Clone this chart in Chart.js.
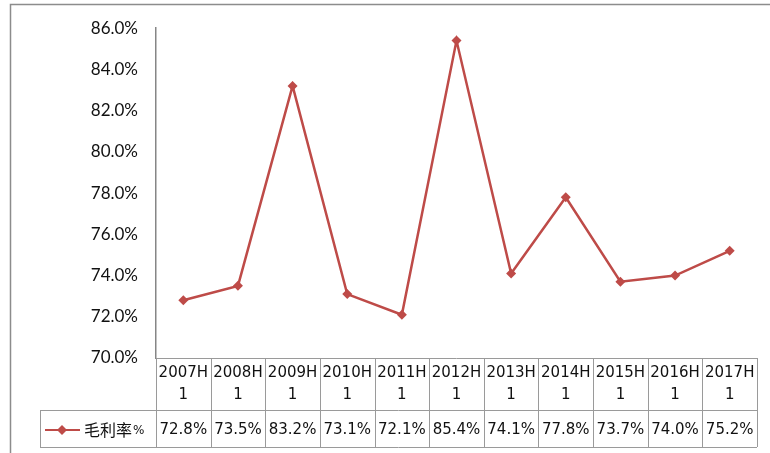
<!DOCTYPE html>
<html>
<head>
<meta charset="utf-8">
<script src="https://cdn.jsdelivr.net/npm/chart.js@4/dist/chart.umd.min.js"></script>
<style>
  html, body { margin: 0; padding: 0; background: #fff; }
  #wrap { width: 770px; height: 453px; }
</style>
</head>
<body>
<div id="wrap"><canvas id="myChart" width="770" height="453"></canvas></div>
<script>
// 半年度毛利率
const periods = ['2007H1', '2008H1', '2009H1', '2010H1', '2011H1', '2012H1',
  '2013H1', '2014H1', '2015H1', '2016H1', '2017H1'];
const grossMargin = [72.8, 73.5, 83.2, 73.1, 72.1, 85.4, 74.1, 77.8, 73.7, 74.0, 75.2];
const seriesName = '毛利率';
const yTicks = [70, 72, 74, 76, 78, 80, 82, 84, 86];

const lineColor = '#be4b48';
const gridGray = '#9a9a9a';
const tableFont = '15px "DejaVu Sans", sans-serif';

// 图表下方的数据表
const dataTable = {
  id: 'dataTable',
  afterDraw(chart) {
    const { ctx, chartArea } = chart;
    const x = chart.scales.x;
    const top = chartArea.bottom;
    const mid = top + 52;
    const bottom = top + 89;
    const legendLeft = 40;
    const step = x.getPixelForValue(1) - x.getPixelForValue(0);
    const left = x.getPixelForValue(0) - step / 2;
    const right = x.getPixelForValue(periods.length - 1) + step / 2;

    ctx.save();
    // 外框
    ctx.strokeStyle = '#8c8c8c';
    ctx.lineWidth = 1.5;
    ctx.beginPath();
    ctx.moveTo(10.5, 453);
    ctx.lineTo(10.5, 4.5);
    ctx.lineTo(770, 4.5);
    ctx.stroke();

    ctx.strokeStyle = gridGray;
    ctx.lineWidth = 1;
    ctx.beginPath();
    ctx.moveTo(left, top + 0.5);
    ctx.lineTo(right, top + 0.5);
    ctx.moveTo(legendLeft, mid + 0.5);
    ctx.lineTo(right, mid + 0.5);
    ctx.moveTo(legendLeft, bottom + 0.5);
    ctx.lineTo(right, bottom + 0.5);
    ctx.moveTo(legendLeft + 0.5, mid);
    ctx.lineTo(legendLeft + 0.5, bottom);
    for (let i = 0; i <= periods.length; i++) {
      const px = Math.round(left + i * step) + 0.5;
      ctx.moveTo(px, top);
      ctx.lineTo(px, bottom);
    }
    ctx.stroke();

    ctx.fillStyle = '#111';
    ctx.font = tableFont;
    ctx.textAlign = 'center';
    ctx.textBaseline = 'middle';
    periods.forEach((p, i) => {
      const cx = x.getPixelForValue(i);
      ctx.fillText(p.slice(0, -1), cx, top + 15);
      ctx.fillText(p.slice(-1), cx, top + 37);
      ctx.fillText(grossMargin[i].toFixed(1) + '%', cx, mid + 20);
    });

    // 图例
    const ly = mid + 20;
    ctx.strokeStyle = lineColor;
    ctx.lineWidth = 2;
    ctx.beginPath();
    ctx.moveTo(45, ly);
    ctx.lineTo(80, ly);
    ctx.stroke();
    ctx.fillStyle = lineColor;
    ctx.beginPath();
    ctx.moveTo(62, ly - 5);
    ctx.lineTo(67, ly);
    ctx.lineTo(62, ly + 5);
    ctx.lineTo(57, ly);
    ctx.closePath();
    ctx.fill();

    ctx.fillStyle = '#111';
    ctx.textAlign = 'left';
    ctx.font = '16px "Noto Sans CJK SC", sans-serif';
    ctx.fillText(seriesName, 84, ly);
    const w = ctx.measureText(seriesName).width;
    ctx.font = '12px "DejaVu Sans", sans-serif';
    ctx.fillText('%', 84 + w + 1, ly + 1);
    ctx.restore();
  }
};

const ctx = document.getElementById('myChart').getContext('2d');

const chart = new Chart(ctx, {
  type: 'line',
  data: {
    labels: periods,
    datasets: [{
      label: seriesName + '%',
      data: grossMargin,
      borderColor: lineColor,
      backgroundColor: lineColor,
      borderWidth: 2.5,
      pointStyle: 'rectRot',
      pointRadius: 5,
      pointBorderWidth: 0,
      tension: 0,
    }],
  },
  options: {
    responsive: false,
    animation: false,
    layout: { padding: { top: 14, right: 13, bottom: 0, left: 0 } },
    plugins: {
      legend: { display: false },
      tooltip: { enabled: false },
    },
    scales: {
      x: {
        offset: true,
        grid: { display: false, drawTicks: false },
        border: { display: false },
        ticks: { display: false },
        afterFit(scale) { scale.height = 95; },
      },
      y: {
        min: 70,
        max: 86,
        afterBuildTicks(scale) { scale.ticks = yTicks.map(v => ({ value: v })); },
        grid: { display: false, drawTicks: false },
        border: { display: true, color: '#868686', width: 1.5 },
        ticks: {
          padding: 18,
          color: '#111',
          font: { family: 'Lato', size: 17 },
          callback: v => v.toFixed(1) + '%',
        },
        afterFit(scale) { scale.width = 156; },
      },
    },
  },
  plugins: [dataTable],
});
</script>
</body>
</html>
